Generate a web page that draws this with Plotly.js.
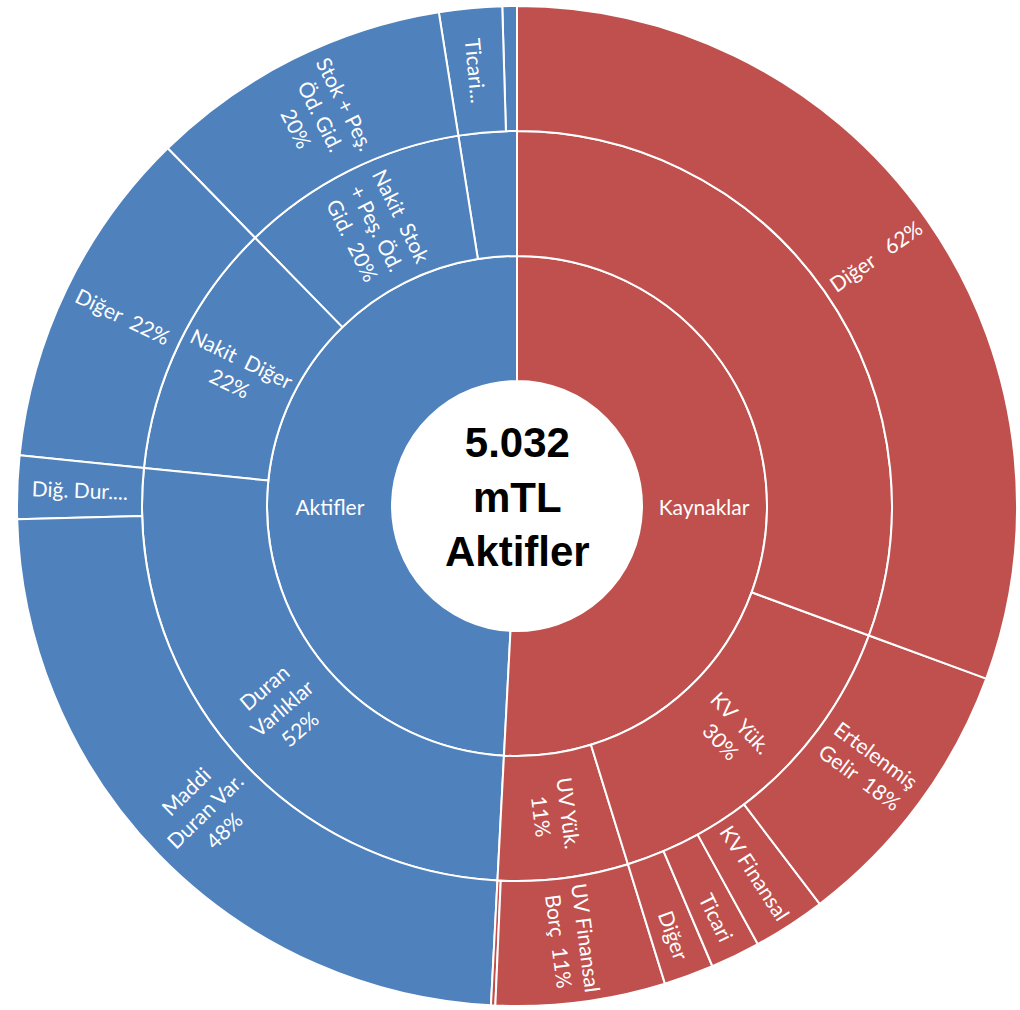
<!DOCTYPE html>
<html>
<head>
<meta charset="utf-8">
<script src="https://cdn.plot.ly/plotly-3.0.1.min.js"></script>
<style>
  html, body { margin: 0; padding: 0; background: #fff; }
</style>
</head>
<body>
<div id="sunburst" style="width:1020px;height:1010px;"></div>
<script>
// bilanço dağılımı - halka payları (tüm daire = 100)
var ids = [
  "root",
  "akt", "a_kucuk", "a_diger_kucuk", "a_ticari",
  "a_nakitstok", "a_stok",
  "a_nakitdiger", "a_diger",
  "a_duran", "a_digdur", "a_maddi",
  "kay", "k_uv", "k_uvdiger", "k_uvfin",
  "k_kv", "k_kvdiger", "k_kvticari", "k_kvfin", "k_ertelenmis",
  "k_oz", "k_diger"
];
var parents = [
  "",
  "root", "akt", "a_kucuk", "a_kucuk",
  "akt", "a_nakitstok",
  "akt", "a_nakitdiger",
  "akt", "a_duran", "a_duran",
  "root", "kay", "k_uv", "k_uv",
  "kay", "k_kv", "k_kv", "k_kv", "k_kv",
  "kay", "k_oz"
];
var labels = [
  "5.032 mTL Aktifler",
  "Aktifler", "Diğer Dönen", "Diğer", "Ticari",
  "Nakit Stok + Peş. Öd. Gid.", "Stok + Peş. Öd. Gid.",
  "Nakit Diğer", "Diğer",
  "Duran Varlıklar", "Diğ. Duran Var.", "Maddi Duran Var.",
  "Kaynaklar", "UV Yük.", "Diğer", "UV Finansal Borç",
  "KV Yük.", "Diğer", "Ticari", "KV Finansal", "Ertelenmiş Gelir",
  "Özkaynaklar", "Diğer"
];
// sadece yapraklar, parent değerleri çocuklardan toplanır
var values = [
  0,
  0, 0, 0.47, 2.03,
  0, 9.81,
  0, 11.07,
  0, 2.04, 23.75,
  0, 0, 0.14, 5.47,
  0, 1.61, 1.61, 2.35, 9.04,
  0, 30.61
];
var texts = [
  "<b>5.032<br>mTL<br>Aktifler</b>",
  "Aktifler", "", "", "Ticari...",
  "Nakit\u00A0 Stok<br>+ Peş. Öd.<br>Gid.\u00A0 20%", "Stok + Peş.<br>Öd. Gid.<br>20%",
  "Nakit\u00A0 Diğer<br>22%", "Diğer\u00A0 22%",
  "Duran<br>Varlıklar<br>52%", "Diğ. Dur....", "Maddi<br>Duran Var.<br>48%",
  "Kaynaklar", "UV Yük.<br>11%", "", "UV Finansal<br>Borç\u00A0 11%",
  "KV\u00A0 Yük.<br>30%", "Diğer", "Ticari", "KV Finansal", "Ertelenmiş<br>Gelir\u00A0 18%",
  "", "Diğer\u00A0\u00A0 62%"
];

var BLUE = "#4F81BD";
var RED = "#C0504D";
var LABEL_FONT = "Lato, Carlito, Calibri, sans-serif";

// renk: kök beyaz, üst düğüme göre mavi / kırmızı
function topOf(id) {
  var i = ids.indexOf(id);
  while (parents[i] && parents[i] !== "root") {
    i = ids.indexOf(parents[i]);
  }
  return ids[i];
}
var colors = ids.map(function (id) {
  if (id === "root") return "#ffffff";
  return topOf(id) === "akt" ? BLUE : RED;
});

// merkez yazısı ve büyük dilimin yazısı annotation olarak (radyal açıyla)
var annotIds = ["root", "k_diger"];
var traceText = texts.map(function (t, i) {
  return annotIds.indexOf(ids[i]) >= 0 ? "" : t;
});

function depth(id) {
  var d = 0, i = ids.indexOf(id);
  while (parents[i]) { d++; i = ids.indexOf(parents[i]); }
  return d;
}
var isLeaf = ids.map(function (id) { return parents.indexOf(id) < 0; });
var total = values.reduce(function (a, b) { return a + b; }, 0);

// dilim orta açısı (saat 12'den saat yönü tersine, derece)
function midAngle(id) {
  var before = 0, idx = ids.indexOf(id);
  for (var i = 0; i < idx; i++) if (isLeaf[i]) before += values[i];
  return 360 * (before + values[idx] / 2) / total;
}

var annotations = [{
  text: texts[0],
  xref: "paper", yref: "paper", x: 0.5, y: 0.5,
  xanchor: "center", yanchor: "middle",
  showarrow: false, yshift: 9,
  font: { family: "Liberation Sans, Arial, sans-serif", size: 42, color: "#000000" }
}];

(function () {
  var id = "k_diger";
  var a = midAngle(id) * Math.PI / 180;
  var ring = depth(id);                 // 3 -> dış halka
  var r = (ring + 0.5) / 4 * 0.5;        // yarıçap, kağıt biriminde
  var screenAng = Math.atan2(Math.cos(a), -Math.sin(a)) * 180 / Math.PI;
  annotations.push({
    text: texts[ids.indexOf(id)],
    xref: "paper", yref: "paper",
    x: 0.5 - r * Math.sin(a),
    y: 0.5 + r * Math.cos(a),
    xanchor: "center", yanchor: "middle",
    showarrow: false,
    textangle: -screenAng,
    font: { family: LABEL_FONT, size: 21, color: "#ffffff" }
  });
})();

var data = [{
  type: "sunburst",
  ids: ids,
  labels: labels,
  parents: parents,
  values: values,
  text: traceText,
  textinfo: "text",
  branchvalues: "remainder",
  sort: false,
  rotation: 90,
  insidetextorientation: "radial",
  marker: {
    colors: colors,
    line: { color: "#ffffff", width: 2 }
  },
  leaf: { opacity: 1 },
  insidetextfont: { family: LABEL_FONT, size: 21, color: "#ffffff" },
  outsidetextfont: { family: "Liberation Sans, Arial, sans-serif", size: 42, color: "#000000" },
  hoverinfo: "label"
}];

var layout = {
  width: 1020,
  height: 1010,
  margin: { l: 17, r: 3, t: 6, b: 4 },
  paper_bgcolor: "#ffffff",
  showlegend: false,
  annotations: annotations
};

Plotly.newPlot("sunburst", data, layout, { displayModeBar: false, staticPlot: true });
</script>
</body>
</html>
